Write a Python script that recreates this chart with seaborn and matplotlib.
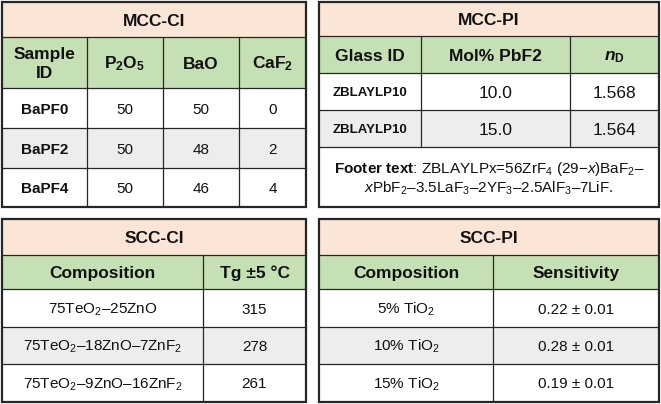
import matplotlib
matplotlib.use("Agg")
import matplotlib.pyplot as plt
from matplotlib.patches import Rectangle
import seaborn as sns

# ---- data ----
mcc_ci_title = "MCC-CI"
mcc_ci_headers = ["Sample\nID", r"P$_\mathbf{2}$O$_\mathbf{5}$", "BaO", r"CaF$_\mathbf{2}$"]
mcc_ci_samples = ["BaPF0", "BaPF2", "BaPF4"]
mcc_ci_p2o5 = [50, 50, 50]
mcc_ci_bao = [50, 48, 46]
mcc_ci_caf2 = [0, 2, 4]

mcc_pi_title = "MCC-PI"
mcc_pi_headers = ["Glass ID", "Mol% PbF2", r"$\mathbfit{n}_\mathbf{D}$"]
mcc_pi_glass = ["ZBLAYLP10", "ZBLAYLP10"]
mcc_pi_pbf2 = [10.0, 15.0]
mcc_pi_nd = [1.568, 1.564]
mcc_pi_footer = [r"$\mathbf{Footer\ text}$: ZBLAYLPx=56ZrF$_4$ (29−$x$)BaF$_2$–",
                 r"$x$PbF$_2$–3.5LaF$_3$–2YF$_3$–2.5AlF$_3$–7LiF."]

scc_ci_title = "SCC-CI"
scc_ci_headers = ["Composition", "Tg ±5 °C"]
scc_ci_comp = ["75TeO$_2$–25ZnO", "75TeO$_2$–18ZnO–7ZnF$_2$", "75TeO$_2$–9ZnO–16ZnF$_2$"]
scc_ci_tg = [315, 278, 261]

scc_pi_title = "SCC-PI"
scc_pi_headers = ["Composition", "Sensitivity"]
scc_pi_tio2 = [5, 10, 15]
scc_pi_sens = [0.22, 0.28, 0.19]
scc_pi_err = [0.01, 0.01, 0.01]

# ---- style ----
sns.set_theme(style="white")
plt.rcParams["font.family"] = ["Liberation Sans", "DejaVu Sans"]
plt.rcParams["mathtext.fontset"] = "custom"
plt.rcParams["mathtext.rm"] = "Liberation Sans"
plt.rcParams["mathtext.it"] = "Liberation Sans:italic"
plt.rcParams["mathtext.bf"] = "Liberation Sans:bold"
plt.rcParams["mathtext.bfit"] = "Liberation Sans:italic:bold"

PEACH = "#FBE5D6"
GREEN = "#C5E0B4"
GRAY = "#EDEDED"
LINE = "#262626"
TXT = "#111111"


def put(ax, x, y, s, size, bold=False):
    # y = vertical centre of cell in pixels; baseline set so caps sit centred
    px = size * 100 / 72
    ax.text(x, y + 0.36 * px, s, ha="center", va="baseline", fontsize=size,
            fontweight="bold" if bold else "normal", color=TXT)


def draw_table(ax, x0, x1, cols, ys, title, headers, rows, bold_first=False,
               body_size=11, head_size=12.5, footer=None, gray_rows=(1,)):
    # cols: inner column splits; ys: row edges (title, header, body rows..., footer)
    xs = [x0] + list(cols) + [x1]
    ax.add_patch(Rectangle((x0, ys[0]), x1 - x0, ys[1] - ys[0], fc=PEACH, ec="none"))
    ax.add_patch(Rectangle((x0, ys[1]), x1 - x0, ys[2] - ys[1], fc=GREEN, ec="none"))
    for i in range(len(rows)):
        c = GRAY if i in gray_rows else "white"
        ax.add_patch(Rectangle((x0, ys[2 + i]), x1 - x0, ys[3 + i] - ys[2 + i], fc=c, ec="none"))
    for y in ys[1:-1]:
        ax.plot([x0, x1], [y, y], color=LINE, lw=0.9)
    y_body_end = ys[2 + len(rows)]
    for x in cols:
        ax.plot([x, x], [ys[1], y_body_end], color=LINE, lw=0.9)
    ax.add_patch(Rectangle((x0, ys[0]), x1 - x0, ys[-1] - ys[0], fc="none", ec=LINE, lw=1.6))

    put(ax, (x0 + x1) / 2, (ys[0] + ys[1]) / 2, title, 12.5, bold=True)
    for j, h in enumerate(headers):
        cx = (xs[j] + xs[j + 1]) / 2
        cy = (ys[1] + ys[2]) / 2
        if "\n" in h:
            a, b = h.split("\n")
            put(ax, cx, cy - 9.5, a, head_size, bold=True)
            put(ax, cx, cy + 9.5, b, head_size, bold=True)
        else:
            put(ax, cx, cy, h, head_size, bold=True)
    for i, r in enumerate(rows):
        cy = (ys[2 + i] + ys[3 + i]) / 2
        for j, v in enumerate(r):
            cx = (xs[j] + xs[j + 1]) / 2
            if j == 0 and bold_first:
                put(ax, cx, cy, v, bold_first, bold=True)
            else:
                put(ax, cx, cy, v, body_size)
    if footer:
        cy = (ys[-2] + ys[-1]) / 2
        put(ax, (x0 + x1) / 2, cy - 9.5, footer[0], 11)
        put(ax, (x0 + x1) / 2, cy + 10, footer[1], 11)


fig = plt.figure(figsize=(6.61, 4.04), dpi=100)
ax = fig.add_axes([0, 0, 1, 1])
ax.set_xlim(0, 661)
ax.set_ylim(404, 0)
ax.axis("off")

rows_a = [[s, str(p), str(b), str(c)] for s, p, b, c in
          zip(mcc_ci_samples, mcc_ci_p2o5, mcc_ci_bao, mcc_ci_caf2)]
draw_table(ax, 2, 306, [87, 163, 239], [2, 37, 88, 128, 168, 207],
           mcc_ci_title, mcc_ci_headers, rows_a, bold_first=11)

rows_b = [[g, f"{p:.1f}", f"{n:.3f}"] for g, p, n in zip(mcc_pi_glass, mcc_pi_pbf2, mcc_pi_nd)]
draw_table(ax, 319, 659, [421, 570], [2, 36, 73, 110, 147, 207],
           mcc_pi_title, mcc_pi_headers, rows_b, bold_first=9.5, body_size=12.5,
           footer=mcc_pi_footer)

rows_c = [[c, str(t)] for c, t in zip(scc_ci_comp, scc_ci_tg)]
draw_table(ax, 2, 306, [203], [219, 255, 289, 327, 364, 402],
           scc_ci_title, scc_ci_headers, rows_c)

rows_d = [[f"{t}% TiO$_2$", f"{s:.2f} ± {e:.2f}"] for t, s, e in
          zip(scc_pi_tio2, scc_pi_sens, scc_pi_err)]
draw_table(ax, 319, 659, [493], [219, 255, 289, 327, 364, 402],
           scc_pi_title, scc_pi_headers, rows_d)

fig.savefig("out.png", dpi=100)
